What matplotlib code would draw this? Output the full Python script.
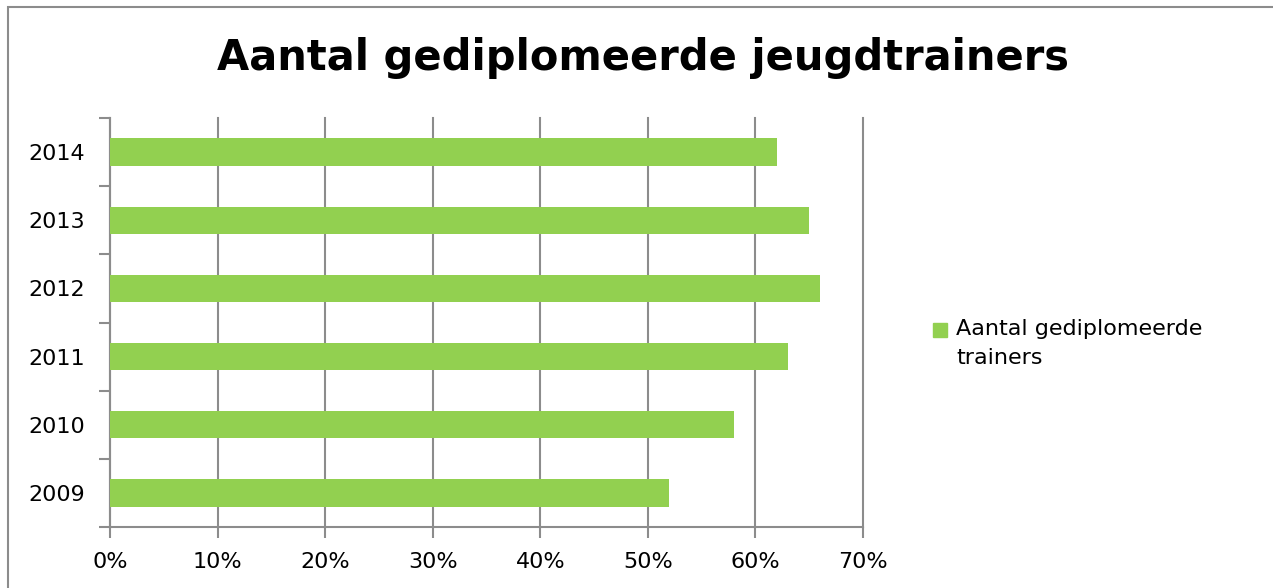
import numpy as np
import matplotlib as mpl
mpl.use("agg")
import matplotlib.pyplot as plt
from matplotlib.patches import Rectangle, Patch

years=["2009","2010","2011","2012","2013","2014"]
shares=[52,58,63,66,65,62]
xticks=[0,10,20,30,40,50,60,70]
title="Aantal gediplomeerde jeugdtrainers"
series_name="Aantal gediplomeerde\ntrainers"

W,H=1273,588
fig=plt.figure(figsize=(W/100,H/100),dpi=100)
fig.patches.append(Rectangle((8/W,-0.1),1.1,1-7/H+0.1,transform=fig.transFigure,
                             fill=False,edgecolor="#8c8c8c",linewidth=1.5))

ax=fig.add_axes([110/W,1-527/H,(863-110)/W,(527-118)/H])
ypos=np.arange(len(years))
ax.barh(ypos,shares,height=0.4,color="#92d050",zorder=3)
ax.set_xlim(0,70)
ax.set_ylim(-0.5,len(years)-0.5)
ax.set_xticks(xticks)
ax.set_xticklabels(["{}%".format(v) for v in xticks])
ax.set_yticks(np.arange(-0.5,len(years),1.0))
ax.set_yticklabels([])
ax.set_yticks(ypos,minor=True)
ax.set_yticklabels(years,minor=True)
ax.tick_params(axis="y",which="minor",length=0,pad=18,labelsize=16)
ax.tick_params(axis="y",which="major",length=8,color="#8c8c8c",width=1.5)
ax.tick_params(axis="x",length=8,color="#8c8c8c",width=1.5,labelsize=16,pad=10)
ax.grid(axis="x",color="#8c8c8c",linewidth=1.5,zorder=0)
for gl in ax.get_xgridlines():
    gl.set_clip_on(False)
for s in ("top","right"):
    ax.spines[s].set_visible(False)
for s in ("left","bottom"):
    ax.spines[s].set_color("#8c8c8c")
    ax.spines[s].set_linewidth(1.5)

fig.text(643/W,1-58/H,title,ha="center",va="center",fontsize=30,fontweight="bold")

leg=fig.legend(handles=[Patch(color="#92d050",label=series_name)],loc="upper left",
           bbox_to_anchor=(924/W,1-310/H),frameon=False,fontsize=16,
           handlelength=0.65,handleheight=0.65,handletextpad=0.4,borderaxespad=0)
for t in leg.get_texts():
    t.set_linespacing(1.6)
# lift the square to the first text line
hp=leg.legend_handles[0]
hp.set_y(hp.get_y()+10)

fig.savefig("out.png",dpi=100)
